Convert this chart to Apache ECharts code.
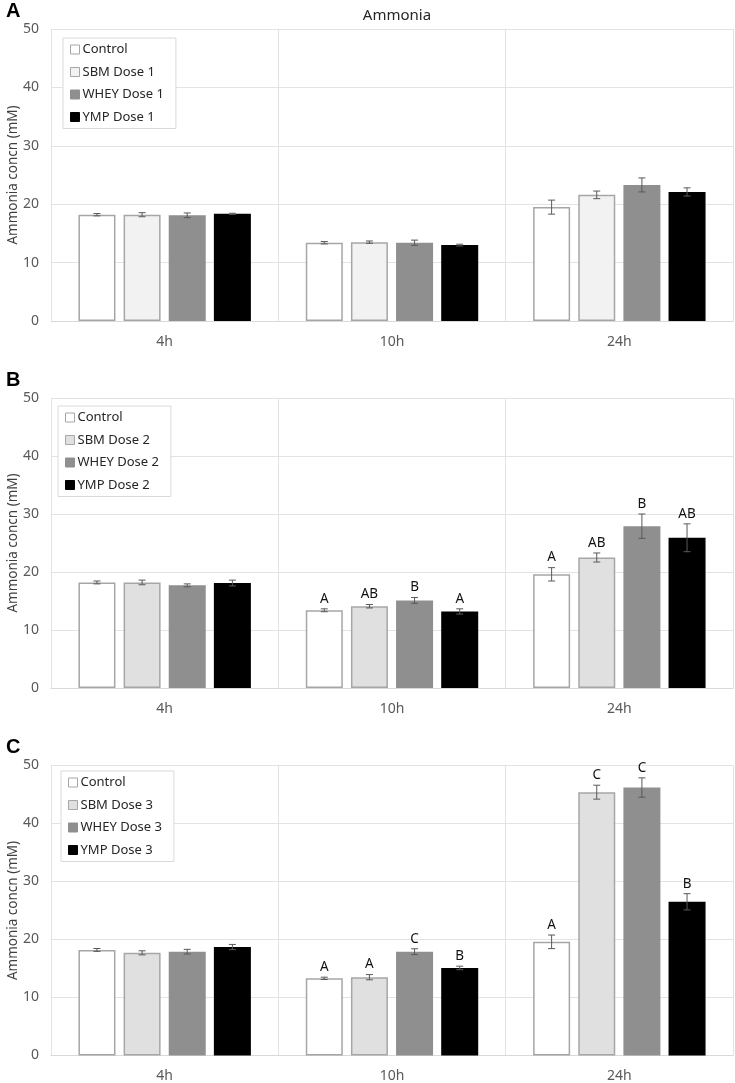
<!DOCTYPE html>
<html>
<head>
<meta charset="utf-8">
<script src="https://cdn.jsdelivr.net/npm/echarts@6/dist/echarts.min.js"></script>
<style>html,body{margin:0;padding:0;background:#fff}#c{width:735px;height:1083px}</style>
</head>
<body>
<div id="c"></div>
<script>
const categories = ['4h', '10h', '24h'];
const yTicks = [0, 10, 20, 30, 40, 50];
const titleText = 'Ammonia';
const yName = 'Ammonia concn (mM)';
const panelLetters = ['A', 'B', 'C'];

// Panel A (Dose 1)
const namesA = ['Control', 'SBM Dose 1', 'WHEY Dose 1', 'YMP Dose 1'];
const controlA = [18.2, 13.4, 19.5];
const sbmA = [18.2, 13.5, 21.6];
const wheyA = [18.1, 13.4, 23.3];
const ympA = [18.35, 13.0, 22.1];
const controlAErr = [0.2, 0.2, 1.2];
const sbmAErr = [0.35, 0.2, 0.65];
const wheyAErr = [0.4, 0.45, 1.2];
const ympAErr = [0.1, 0.15, 0.7];
const controlALet = ['', '', ''];
const sbmALet = ['', '', ''];
const wheyALet = ['', '', ''];
const ympALet = ['', '', ''];

// Panel B (Dose 2)
const namesB = ['Control', 'SBM Dose 2', 'WHEY Dose 2', 'YMP Dose 2'];
const controlB = [18.2, 13.4, 19.6];
const sbmB = [18.2, 14.1, 22.5];
const wheyB = [17.7, 15.1, 27.9];
const ympB = [18.1, 13.2, 25.9];
const controlBErr = [0.25, 0.25, 1.15];
const sbmBErr = [0.4, 0.3, 0.78];
const wheyBErr = [0.25, 0.5, 2.1];
const ympBErr = [0.5, 0.45, 2.4];
const controlBLet = ['', 'A', 'A'];
const sbmBLet = ['', 'AB', 'AB'];
const wheyBLet = ['', 'B', 'B'];
const ympBLet = ['', 'A', 'AB'];

// Panel C (Dose 3)
const namesC = ['Control', 'SBM Dose 3', 'WHEY Dose 3', 'YMP Dose 3'];
const controlC = [18.2, 13.3, 19.6];
const sbmC = [17.7, 13.5, 45.4];
const wheyC = [17.9, 17.9, 46.2];
const ympC = [18.7, 15.1, 26.5];
const controlCErr = [0.25, 0.2, 1.17];
const sbmCErr = [0.35, 0.45, 1.2];
const wheyCErr = [0.4, 0.5, 1.67];
const ympCErr = [0.45, 0.3, 1.4];
const controlCLet = ['', 'A', 'A'];
const sbmCLet = ['', 'A', 'C'];
const wheyCLet = ['', 'C', 'C'];
const ympCLet = ['', 'B', 'B'];

const panels = [
  {names: namesA, vals: [controlA, sbmA, wheyA, ympA], errs: [controlAErr, sbmAErr, wheyAErr, ympAErr], lets: [controlALet, sbmALet, wheyALet, ympALet], sbmColor: '#f2f2f2'},
  {names: namesB, vals: [controlB, sbmB, wheyB, ympB], errs: [controlBErr, sbmBErr, wheyBErr, ympBErr], lets: [controlBLet, sbmBLet, wheyBLet, ympBLet], sbmColor: '#e0e0e0'},
  {names: namesC, vals: [controlC, sbmC, wheyC, ympC], errs: [controlCErr, sbmCErr, wheyCErr, ympCErr], lets: [controlCLet, sbmCLet, wheyCLet, ympCLet], sbmColor: '#e0e0e0'}
];

const FONT = '"Noto Sans", "Open Sans", sans-serif';
const gridTops = [29, 398, 765.5];
const gridH = [292, 290, 290];
const legendTops = [38, 406, 771];
const legendLefts = [63, 58, 61];
const BW = 37, GAP = 0.22;

const grids = [], xAxes = [], yAxes = [], series = [], legends = [], graphics = [];
panels.forEach((p, k) => {
  grids.push({left: 51, right: 2, top: gridTops[k], height: gridH[k], containLabel: false, outerBoundsMode: 'none'});
  xAxes.push({
    type: 'category', data: categories, gridIndex: k,
    axisLine: {lineStyle: {color: '#d9d9d9', width: 1}},
    axisTick: {show: false},
    axisLabel: {color: '#595959', fontSize: 14, fontFamily: FONT, margin: 14},
    splitLine: {show: true, lineStyle: {color: '#e3e3e3', width: 1}}
  });
  yAxes.push({
    type: 'value', gridIndex: k, min: 0, max: 50, interval: 10,
    axisLine: {show: false}, axisTick: {show: false},
    axisLabel: {color: '#595959', fontSize: 14, fontFamily: FONT, margin: 12,
      formatter: v => yTicks.includes(v) ? String(v) : ''},
    splitLine: {lineStyle: {color: '#e3e3e3', width: 1}},
    name: yName, nameLocation: 'middle', nameGap: 31, nameRotate: 90,
    nameMoveOverlap: false,
    nameTextStyle: {color: '#404040', fontSize: 13.5, fontFamily: FONT}
  });
  const fills = ['#ffffff', p.sbmColor, '#8f8f8f', '#000000'];
  const borders = ['#a6a6a6', '#a6a6a6', '#8f8f8f', '#000000'];
  p.names.forEach((nm, i) => {
    series.push({
      type: 'bar', name: nm, xAxisIndex: k, yAxisIndex: k,
      data: p.vals[i], barWidth: BW, barGap: (GAP * 100) + '%',
      itemStyle: {color: fills[i], borderColor: borders[i], borderWidth: 1.5},
      emphasis: {disabled: true}, animation: false
    });
  });
  p.names.forEach((nm, i) => {
    const vals = p.vals[i], errs = p.errs[i], lets = p.lets[i];
    const offset = (i - 1.5) * BW * (1 + GAP);
    series.push({
      type: 'custom', xAxisIndex: k, yAxisIndex: k, z: 5, animation: false,
      silent: true,
      data: vals.map((v, j) => [j, v, errs[j]]),
      renderItem: function (params, api) {
        const j = api.value(0), v = api.value(1), e = api.value(2);
        const c = api.coord([j, v]);
        const x = c[0] + offset;
        const yT = api.coord([j, v + e])[1];
        const yB = api.coord([j, v - e])[1];
        const st = {stroke: '#595959', lineWidth: 1};
        const ch = [
          {type: 'line', shape: {x1: x, y1: yT, x2: x, y2: yB}, style: st},
          {type: 'line', shape: {x1: x - 3.5, y1: yT, x2: x + 3.5, y2: yT}, style: st},
          {type: 'line', shape: {x1: x - 3.5, y1: yB, x2: x + 3.5, y2: yB}, style: st}
        ];
        const L = lets[params.dataIndex];
        if (L) {
          ch.push({type: 'text', x: x, y: yT - 3, style: {text: L, fill: '#111', fontSize: 13.5, fontFamily: FONT, align: 'center', verticalAlign: 'bottom'}});
        }
        return {type: 'group', children: ch};
      }
    });
  });
  legends.push({
    data: p.names, orient: 'vertical', left: legendLefts[k], top: legendTops[k],
    backgroundColor: '#fff', borderColor: '#d9d9d9', borderWidth: 1,
    padding: [5, 12, 5, 7], itemGap: 9.5, itemWidth: 9, itemHeight: 9,
    icon: 'rect',
    itemStyle: {borderWidth: 1},
    textStyle: {color: '#262626', fontSize: 13, fontFamily: FONT, padding: [0, 0, 0, -2]},
    selectedMode: false
  });
  graphics.push({type: 'text', left: 6, top: gridTops[k] - 28, style: {text: panelLetters[k], fontSize: 20, fontWeight: 'bold', fill: '#000', fontFamily: '"Liberation Sans", Arial, sans-serif'}});
});

const chart = echarts.init(document.getElementById('c'), null, {renderer: 'canvas'});
chart.setOption({
  animation: false,
  backgroundColor: '#ffffff',
  title: {text: titleText, left: 392, textAlign: 'center', top: 3,
    textStyle: {color: '#262626', fontSize: 15, fontWeight: 'normal', fontFamily: FONT}},
  grid: grids, xAxis: xAxes, yAxis: yAxes, series: series, legend: legends,
  graphic: graphics
});
</script>
</body>
</html>
